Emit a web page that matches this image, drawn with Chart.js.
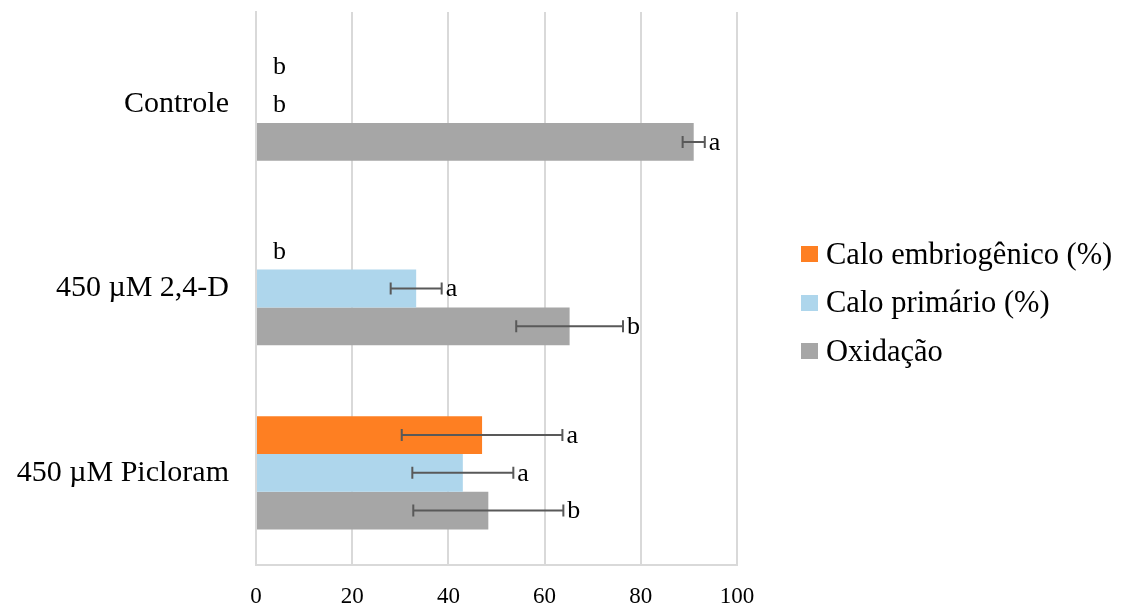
<!DOCTYPE html>
<html lang="pt">
<head>
<meta charset="utf-8">
<title>Calo embriogênico, calo primário e oxidação</title>
<script src="https://cdn.jsdelivr.net/npm/chart.js@4.4.1/dist/chart.umd.min.js"></script>
<style>
  html, body { margin: 0; padding: 0; background: #ffffff; }
  #wrap { position: relative; width: 1123px; height: 610px; }
  #chart { position: absolute; left: 0; top: 0; }
  #legend { position: absolute; left: 801px; top: 230px; font-family: "Liberation Serif", "Times New Roman", serif; font-size: 30.5px; color: #000; }
  #legend .item { display: flex; align-items: center; height: 48.5px; white-space: nowrap; }
  #legend .box { width: 17px; height: 16px; margin-right: 8px; flex: none; }
</style>
</head>
<body>
<div id="wrap">
  <canvas id="chart" width="1123" height="610"></canvas>
  <div id="legend"></div>
</div>
<script>
// Treatments (one group of bars per treatment)
const categories = ['Controle', '450 µM 2,4-D', '450 µM Picloram'];

// Series names
const seriesNames = ['Calo embriogênico (%)', 'Calo primário (%)', 'Oxidação'];

// Mean values (%) per treatment
const caloEmbriogenico = [0, 0, 47];
const caloPrimario = [0, 33.3, 43];
const oxidacao = [91, 65.2, 48.3];

// Error bar half-widths
const erroEmbriogenico = [0, 0, 16.7];
const erroPrimario = [0, 5.3, 10.5];
const erroOxidacao = [2.3, 11.1, 15.6];

// Letters from the mean comparison test
const letrasEmbriogenico = ['b', 'b', 'a'];
const letrasPrimario = ['b', 'a', 'a'];
const letrasOxidacao = ['a', 'b', 'b'];

// Value axis ticks
const xTicks = [0, 20, 40, 60, 80, 100];

const colors = ['#fe7f22', '#aed6ec', '#a6a6a6'];
const FONT = '"Liberation Serif", "Times New Roman", serif';

const seriesValues = [caloEmbriogenico, caloPrimario, oxidacao];
const seriesErrors = [erroEmbriogenico, erroPrimario, erroOxidacao];
const seriesLetters = [letrasEmbriogenico, letrasPrimario, letrasOxidacao];

const datasets = seriesNames.map((name, i) => ({
  label: name,
  data: seriesValues[i],
  errors: seriesErrors[i],
  letters: seriesLetters[i],
  backgroundColor: colors[i],
  borderWidth: 0,
  barPercentage: 1,
  categoryPercentage: 0.615
}));

// Draws the error bars and the significance letters next to each bar
const errorBarsPlugin = {
  id: 'errorBars',
  afterDatasetsDraw(chart) {
    const ctx = chart.ctx;
    const xScale = chart.scales.x;
    ctx.save();
    chart.data.datasets.forEach((ds, di) => {
      const meta = chart.getDatasetMeta(di);
      meta.data.forEach((bar, idx) => {
        const v = ds.data[idx];
        const e = ds.errors[idx];
        const y = bar.y;
        let labelX;
        if (e > 0) {
          const x0 = xScale.getPixelForValue(v - e);
          const x1 = xScale.getPixelForValue(v + e);
          ctx.strokeStyle = '#595959';
          ctx.lineWidth = 2;
          ctx.beginPath();
          ctx.moveTo(x0, y); ctx.lineTo(x1, y);
          ctx.moveTo(x0, y - 6); ctx.lineTo(x0, y + 6);
          ctx.moveTo(x1, y - 6); ctx.lineTo(x1, y + 6);
          ctx.stroke();
          labelX = x1 + 4;
        } else if (v > 0) {
          labelX = xScale.getPixelForValue(v) + 4;
        } else {
          labelX = xScale.getPixelForValue(0) + 17;
        }
        ctx.fillStyle = '#000';
        ctx.font = '26px ' + FONT;
        ctx.textAlign = 'left';
        ctx.textBaseline = 'middle';
        ctx.fillText(ds.letters[idx], labelX, y + 1);
      });
    });
    ctx.restore();
  }
};

const chart = new Chart(document.getElementById('chart'), {
  type: 'bar',
  data: { labels: categories, datasets },
  plugins: [errorBarsPlugin],
  options: {
    indexAxis: 'y',
    responsive: false,
    animation: false,
    layout: { padding: { left: 10, right: 386, top: 12, bottom: 0 } },
    plugins: {
      legend: { display: false },
      tooltip: { enabled: false }
    },
    scales: {
      x: {
        min: 0,
        max: 100,
        afterBuildTicks(scale) { scale.ticks = xTicks.map(v => ({ value: v })); },
        afterFit(scale) { scale.height = 45; },
        grid: { color: '#d9d9d9', lineWidth: 2, drawTicks: false },
        border: { color: '#d9d9d9', width: 2 },
        ticks: { color: '#000', font: { family: FONT, size: 23 }, padding: 18 }
      },
      y: {
        afterFit(scale) {
          scale.width = 246;
          scale.paddingTop = 0;
          scale.paddingBottom = 0;
        },
        grid: { display: false, drawTicks: false },
        border: { color: '#d9d9d9', width: 2 },
        ticks: { color: '#000', font: { family: FONT, size: 30 }, padding: 27 }
      }
    }
  }
});

// Legend built from the chart's own datasets
const legendEl = document.getElementById('legend');
chart.data.datasets.forEach(ds => {
  const item = document.createElement('div');
  item.className = 'item';
  const box = document.createElement('span');
  box.className = 'box';
  box.style.background = ds.backgroundColor;
  const text = document.createElement('span');
  text.textContent = ds.label;
  item.appendChild(box);
  item.appendChild(text);
  legendEl.appendChild(item);
});
</script>
</body>
</html>
